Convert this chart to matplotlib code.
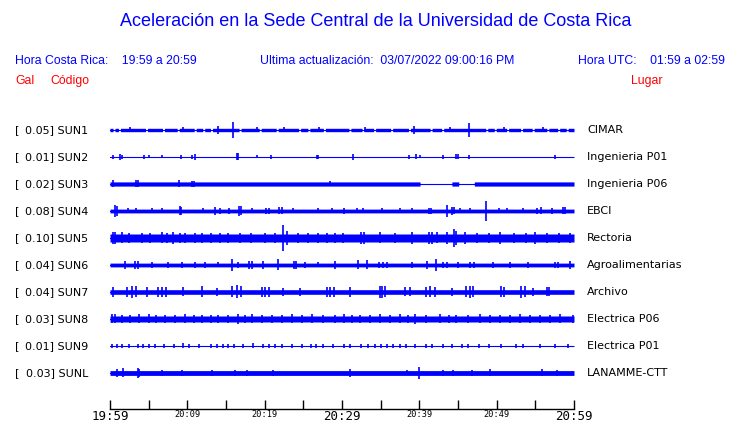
"""Acceleration traces, UCR Sede Central (one hour window)."""
import numpy as np
import matplotlib.pyplot as plt

BLUE = "#0000ff"
RED = "#ff0000"

codes = ["SUN1", "SUN2", "SUN3", "SUN4", "SUN5",
         "SUN6", "SUN7", "SUN8", "SUN9", "SUNL"]
peak_gal = [0.05, 0.01, 0.02, 0.08, 0.10, 0.04, 0.04, 0.03, 0.01, 0.03]
places = ["CIMAR", "Ingenieria P01", "Ingenieria P06", "EBCI", "Rectoria",
          "Agroalimentarias", "Archivo", "Electrica P06", "Electrica P01",
          "LANAMME-CTT"]

# half height of the background noise band of each trace (px)
base_half = [1.7, 0.5, 2.1, 1.9, 4.0, 1.9, 2.3, 3.0, 0.5, 2.4]

# bursts: (minute after 19:59, half amplitude px)
sun1_bursts = [(2.6, 2.5), (9.5, 2.5), (14.0, 4), (15.9, 8), (19.0, 2.5),
               (22.5, 2.5), (27.0, 2.5), (33.0, 2.5), (39.3, 4), (44.0, 2.5),
               (46.4, 7), (51.0, 2.5), (56.0, 2.5)]
sun2_bursts = [(0.4, 2), (1.3, 3), (1.6, 2), (4.4, 2), (5.0, 1.5), (6.7, 1.5),
               (9.2, 2), (10.6, 2), (11.0, 3), (16.4, 3.5), (16.6, 3.5),
               (19.0, 1.5), (20.8, 2), (26.8, 2), (26.9, 2), (31.4, 3),
               (38.7, 2), (39.6, 2.5), (40.1, 1.5), (43.1, 2), (44.8, 2.5),
               (45.0, 2.5), (46.4, 2), (57.5, 2)]
sun3_bursts = [(0.4, 3.5), (3.4, 3.5), (3.6, 3.5), (8.9, 3.5), (10.6, 3),
               (10.9, 3), (28.5, 2.5)]
sun4_bursts = [(0.7, 6), (0.9, 5), (2.3, 2.5), (3.4, 2.5), (5.4, 2.5),
               (6.7, 2.5), (9.0, 4.5), (9.2, 4), (12.0, 2.5), (13.6, 4),
               (14.2, 3), (15.4, 3), (16.7, 5), (16.9, 4.5), (18.4, 2.5),
               (20.2, 3), (20.5, 3), (21.9, 3.5), (22.2, 3.5), (23.7, 2.5),
               (26.9, 2.5), (28.7, 2.5), (30.2, 3), (31.9, 2.5), (32.7, 2.5),
               (35.2, 2.5), (37.5, 2.5), (39.0, 2.5), (41.2, 3), (41.5, 3),
               (43.6, 6), (44.2, 4), (44.5, 3.5), (45.3, 2.5), (46.6, 2.5),
               (48.6, 10), (50.3, 2.5), (51.3, 2.5), (53.4, 2.5), (55.2, 3),
               (55.7, 3.5), (57.2, 3), (58.6, 3.5), (58.9, 3.5)]
sun5_bursts = [(0.4, 6), (0.7, 6), (1.5, 5.5), (2.5, 5), (4.1, 5), (5.2, 5),
               (6.7, 5.5), (7.4, 5), (8.1, 6), (9.0, 5), (9.7, 5), (11.0, 5),
               (11.9, 5), (13.0, 5), (14.2, 5), (15.3, 5), (16.8, 5),
               (18.2, 5), (20.0, 5), (21.3, 5), (22.4, 13), (22.9, 7),
               (24.3, 5), (25.6, 5), (26.9, 5), (28.0, 5), (29.1, 5),
               (30.1, 5), (32.4, 6), (32.8, 6), (34.9, 5.5), (36.8, 5),
               (39.1, 6), (41.2, 6), (41.6, 6), (42.3, 5.5), (43.6, 6),
               (44.5, 9), (44.8, 7), (45.9, 6), (47.5, 5), (49.0, 5),
               (50.4, 6), (52.3, 5), (53.8, 5), (55.0, 6), (56.5, 5),
               (58.0, 5), (59.5, 5)]
sun6_bursts = [(1.9, 4), (3.2, 4), (3.6, 4), (5.4, 3), (7.5, 3), (9.3, 3),
               (11.0, 3), (12.3, 3), (14.0, 2.5), (15.8, 6), (16.6, 3),
               (18.0, 4), (18.3, 4), (19.8, 4), (21.7, 5.5), (23.8, 4),
               (24.1, 4), (25.2, 3), (26.9, 2.5), (29.1, 4), (32.1, 4.5),
               (33.2, 4.5), (34.8, 3), (35.3, 3), (35.8, 3), (39.0, 3),
               (41.0, 4), (42.2, 6), (43.0, 3), (43.6, 3), (45.0, 3),
               (46.5, 3), (47.1, 3), (49.5, 3), (51.7, 3), (54.1, 3),
               (57.5, 3), (57.9, 3), (59.5, 4)]
sun7_bursts = [(0.4, 5), (2.2, 5), (2.8, 6), (3.3, 5.5), (4.8, 5), (6.2, 5),
               (6.7, 5), (7.2, 5), (9.4, 4.5), (11.9, 5.5), (13.8, 4),
               (15.8, 5.5), (16.4, 6.5), (17.0, 5.5), (19.6, 5), (20.0, 5),
               (20.5, 5), (22.4, 4), (24.6, 4), (28.1, 5), (28.5, 5),
               (29.0, 5), (31.0, 5), (34.9, 6), (35.2, 6), (35.6, 5.5),
               (38.2, 4.5), (38.8, 4.5), (40.8, 5), (41.4, 5.5), (42.0, 5),
               (44.2, 4), (46.0, 5.5), (46.5, 6), (47.0, 5.5), (50.6, 5.5),
               (51.0, 5), (53.1, 6), (53.6, 5.5), (54.7, 4), (56.5, 4.5),
               (56.8, 4.5)]
sun8_bursts = [(0.2, 4.5), (0.65, 4.5), (1.5, 4), (2.6, 4), (3.7, 4.5),
               (5.0, 4.5), (6.0, 4), (7.1, 4), (8.4, 4), (9.7, 4.5),
               (10.8, 4), (11.9, 4), (13.0, 4), (14.0, 4), (15.3, 4),
               (16.6, 5), (17.4, 4), (18.3, 4.5), (19.6, 4), (20.9, 4),
               (22.2, 4), (23.5, 4.5), (24.8, 4), (26.1, 4.5), (27.6, 4),
               (29.1, 4), (30.2, 4.5), (31.3, 4), (32.3, 4), (33.6, 4),
               (34.9, 4.5), (36.2, 4), (37.5, 4.5), (38.5, 4), (39.4, 5),
               (40.8, 4), (42.7, 4.5), (43.8, 4), (44.8, 4), (46.3, 4),
               (47.8, 4.5), (49.1, 4), (50.4, 4), (51.7, 4), (53.0, 4.5),
               (54.3, 4), (55.6, 4), (56.9, 4), (58.2, 4.5), (59.9, 4)]
sun9_bursts = [(0.3, 1.6), (0.9, 1.6), (1.5, 1.6), (2.5, 1.6), (3.6, 1.6),
               (4.3, 1.6), (5.0, 1.6), (5.8, 1.6), (7.0, 1.6), (8.3, 1.6),
               (9.5, 2.5), (10.2, 1.6), (11.5, 1.6), (13.0, 1.6), (13.8, 1.6),
               (14.6, 1.6), (15.3, 1.6), (16.0, 1.6), (17.2, 1.6), (18.5, 2.5),
               (19.8, 1.6), (20.6, 1.6), (21.4, 1.6), (22.3, 1.6), (23.5, 1.6),
               (24.8, 1.6), (26.0, 1.6), (26.6, 1.6), (27.5, 1.6), (28.8, 1.6),
               (30.2, 1.6), (31.0, 1.6), (32.5, 1.6), (33.4, 1.6), (34.3, 1.6),
               (35.0, 1.6), (35.8, 1.6), (36.6, 1.6), (37.5, 1.6), (38.3, 1.6),
               (39.5, 1.6), (40.8, 1.6), (41.6, 1.6), (43.0, 1.6), (44.2, 1.6),
               (45.5, 1.6), (46.3, 1.6), (47.7, 1.6), (49.0, 1.6), (50.6, 1.6),
               (52.5, 1.6), (53.4, 1.6), (55.6, 1.6), (57.5, 1.6), (59.2, 1.6)]
sunl_bursts = [(0.9, 4), (1.7, 4.5), (3.6, 5), (3.8, 4), (6.7, 3), (9.3, 3),
               (13.2, 3), (16.2, 3), (17.7, 3), (21.1, 3), (31.0, 4),
               (38.4, 2.5), (39.9, 6), (43.1, 3), (44.4, 3), (46.8, 3),
               (49.1, 3.5), (55.8, 3.5), (57.8, 3)]
bursts = [sun1_bursts, sun2_bursts, sun3_bursts, sun4_bursts, sun5_bursts,
          sun6_bursts, sun7_bursts, sun8_bursts, sun9_bursts, sunl_bursts]

# stretches where the trace is only a thin line (minutes)
sun1_gaps = [0.4, 1.1, 4.6, 6.8, 8.7, 10.9, 12.0, 13.0, 16.7, 19.3, 21.5, 24.4,
             25.6, 27.6, 30.9, 32.6, 34.1, 36.3, 38.6, 41.4, 42.9, 48.6, 49.7,
             51.3, 53.1, 54.6, 56.5, 57.9, 59.0]
sun3_quiet = [(40.1, 44.2), (45.1, 47.1)]
quiet = [[(g, g + 0.25) for g in sun1_gaps], [], sun3_quiet, [], [], [], [],
         [], [], []]

tick_minutes = list(range(0, 61, 5))
tick_labels = {0: "19:59", 10: "20:09", 20: "20:19", 30: "20:29",
               40: "20:39", 50: "20:49", 60: "20:59"}
big_ticks = [0, 30, 60]

W, H = 740, 423
fig = plt.figure(figsize=(W / 100, H / 100), dpi=100)
fig.patch.set_facecolor("white")

# trace area: x in minutes, y in pixel rows
ax = fig.add_axes([110 / W, 0, 464 / W, 1])
ax.set_xlim(0, 60)
ax.set_ylim(H, 0)
ax.axis("off")

t = np.linspace(0, 60, 3001)
for i, code in enumerate(codes):
    y0 = 130 + 27 * i
    env = np.full_like(t, base_half[i])
    for a, b in quiet[i]:
        env[(t >= a) & (t <= b)] = 0.5
    ax.fill_between(t, y0 - env, y0 + env, color=BLUE, lw=0)
    ax.plot([0, 60], [y0, y0], color=BLUE, lw=0.8)
    bt = [b[0] for b in bursts[i]]
    bh = np.array([b[1] for b in bursts[i]])
    ax.vlines(bt, y0 - bh, y0 + bh, color=BLUE, lw=1.2)

    fig.text(15 / W, 1 - y0 / H, "[", ha="left", va="center",
             fontsize=8, family="DejaVu Sans")
    fig.text(88 / W, 1 - y0 / H, f"{peak_gal[i]:.2f}] {code}", ha="right",
             va="center", fontsize=8, family="DejaVu Sans")
    fig.text(587 / W, 1 - y0 / H, places[i], ha="left", va="center",
             fontsize=8, family="DejaVu Sans")

# time axis
tax = fig.add_axes([110 / W, (H - 409) / H, 464 / W, 0.02])
tax.set_xlim(0, 60)
tax.set_yticks([])
for s in ["top", "left", "right"]:
    tax.spines[s].set_visible(False)
tax.spines["bottom"].set_linewidth(1)
tax.set_xticks(tick_minutes)
tax.set_xticklabels([tick_labels.get(m, "") for m in tick_minutes])
tax.tick_params(axis="x", direction="in", length=6.5, width=1, pad=1)
for m, lab in zip(tick_minutes, tax.get_xticklabels()):
    lab.set_family("DejaVu Sans Mono")
    lab.set_fontsize(9 if m in big_ticks else 6.2)

# header
sans = "Liberation Sans"
hdr = 8.8
fig.text(376 / W, 1 - 22 / H,
         "Aceleración en la Sede Central de la Universidad de Costa Rica",
         ha="center", va="center", color=BLUE, fontsize=13.0, family=sans)
fig.text(15 / W, 1 - 61 / H, "Hora Costa Rica:    19:59 a 20:59",
         ha="left", va="center", color=BLUE, fontsize=hdr, family=sans)
fig.text(260 / W, 1 - 61 / H,
         "Ultima actualización:  03/07/2022 09:00:16 PM",
         ha="left", va="center", color=BLUE, fontsize=hdr, family=sans)
fig.text(725 / W, 1 - 61 / H, "Hora UTC:    01:59 a 02:59",
         ha="right", va="center", color=BLUE, fontsize=hdr, family=sans)
fig.text(15 / W, 1 - 81 / H, "Gal", ha="left", va="center", color=RED,
         fontsize=hdr, family=sans)
fig.text(50 / W, 1 - 81 / H, "Código", ha="left", va="center", color=RED,
         fontsize=hdr, family=sans)
fig.text(663 / W, 1 - 81 / H, "Lugar", ha="right", va="center", color=RED,
         fontsize=hdr, family=sans)

fig.savefig("out.png", dpi=100, facecolor="white")
